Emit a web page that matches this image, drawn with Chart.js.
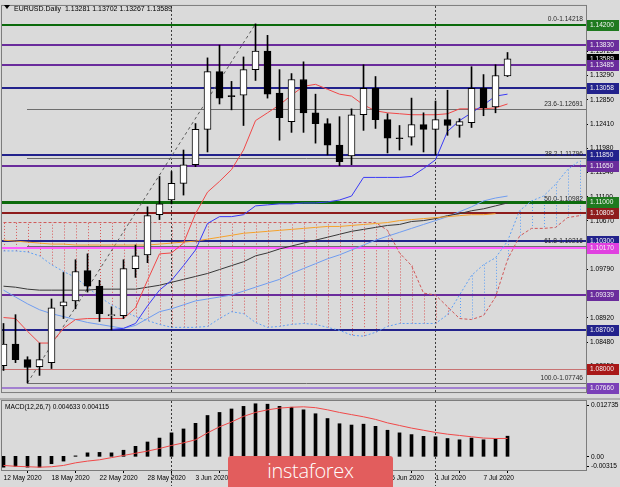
<!DOCTYPE html>
<html>
<head>
<meta charset="utf-8">
<title>EURUSD Daily</title>
<script src="https://cdn.jsdelivr.net/npm/chart.js@4.4.1/dist/chart.umd.min.js"></script>
<style>
  html, body { margin: 0; padding: 0; background: #dadada; overflow: hidden; }
  #wrap { position: relative; width: 620px; height: 487px; }
  #main { position: absolute; left: 0; top: 0; }
  #macd { position: absolute; left: 0; top: 398px; }
  #logo {
    position: absolute; left: 228px; top: 456px; width: 165px; height: 40px;
    background: #e25d5d; border-radius: 3px 3px 0 0; color: #fff;
    font: 300 20px "Open Sans"; text-align: center; line-height: 30px; letter-spacing: -0.3px;
  }
</style>
</head>
<body>
<div id="wrap">
  <canvas id="main" width="620" height="398"></canvas>
  <canvas id="macd" width="620" height="89"></canvas>
  <div id="logo">instaforex</div>
</div>
<script>
// --- DATA (EURUSD daily) ---
const barDates = [
  '12 May 2020', '13 May 2020', '14 May 2020', '15 May 2020', '18 May 2020', '19 May 2020',
  '20 May 2020', '21 May 2020', '22 May 2020', '25 May 2020', '26 May 2020', '27 May 2020',
  '28 May 2020', '29 May 2020', '1 Jun 2020', '2 Jun 2020', '3 Jun 2020', '4 Jun 2020',
  '5 Jun 2020', '8 Jun 2020', '9 Jun 2020', '10 Jun 2020', '11 Jun 2020', '12 Jun 2020',
  '15 Jun 2020', '16 Jun 2020', '17 Jun 2020', '18 Jun 2020', '19 Jun 2020', '22 Jun 2020',
  '23 Jun 2020', '24 Jun 2020', '25 Jun 2020', '26 Jun 2020', '29 Jun 2020', '30 Jun 2020',
  '1 Jul 2020', '2 Jul 2020', '3 Jul 2020', '6 Jul 2020', '7 Jul 2020', '8 Jul 2020', '9 Jul 2020'
];

const opens = [1.08058, 1.08447, 1.08164, 1.08040, 1.08111, 1.09135, 1.09224, 1.09771, 1.09489, 1.08959,
  1.08959, 1.09807, 1.10054, 1.10778, 1.11043, 1.11344, 1.11679, 1.12315, 1.13357, 1.12916,
  1.12933, 1.13393, 1.13728, 1.12969, 1.12456, 1.13216, 1.12615, 1.12421, 1.12032, 1.11838,
  1.12580, 1.13057, 1.12492, 1.12156, 1.12174, 1.12403, 1.12315, 1.12492, 1.12386, 1.12439,
  1.13057, 1.12721, 1.13281];
const highs = [1.08817, 1.08976, 1.08217, 1.08464, 1.09259, 1.09736, 1.09966, 1.10072, 1.09595, 1.09118,
  1.09966, 1.10231, 1.10920, 1.11467, 1.11556, 1.11944, 1.12421, 1.13605, 1.13834, 1.13181,
  1.13622, 1.14218, 1.14011, 1.13393, 1.13322, 1.13534, 1.12951, 1.12509, 1.12545, 1.12686,
  1.13481, 1.13269, 1.12598, 1.12386, 1.12880, 1.12615, 1.12827, 1.13022, 1.12509, 1.13446,
  1.13304, 1.13481, 1.13702];
const lows = [1.07970, 1.08111, 1.07746, 1.07881, 1.08005, 1.08906, 1.09082, 1.09383, 1.08853, 1.08700,
  1.08906, 1.09648, 1.09913, 1.10690, 1.10973, 1.11132, 1.11644, 1.11909, 1.12774, 1.12668,
  1.12386, 1.13198, 1.12880, 1.12121, 1.12262, 1.12262, 1.12068, 1.11856, 1.11662, 1.11679,
  1.12298, 1.12333, 1.11891, 1.11944, 1.12032, 1.11909, 1.11856, 1.12209, 1.12174, 1.12350,
  1.12562, 1.12615, 1.13267];
const closes = [1.08447, 1.08164, 1.08023, 1.08164, 1.09100, 1.09206, 1.09754, 1.09489, 1.08994, 1.08976,
  1.09807, 1.10036, 1.10761, 1.10973, 1.11344, 1.11679, 1.12315, 1.13357, 1.12880, 1.12907,
  1.13393, 1.13728, 1.12951, 1.12527, 1.13216, 1.12615, 1.12421, 1.12032, 1.11732, 1.12580,
  1.13057, 1.12492, 1.12156, 1.12147, 1.12403, 1.12315, 1.12492, 1.12386, 1.12456, 1.13057,
  1.12704, 1.13287, 1.13589];

// indicator lines
const redLine = [1.08924, 1.08906, 1.08676, 1.08464, 1.08464, 1.08729, 1.08888, 1.08906, 1.08906, 1.08906,
  1.08906, 1.09100, 1.09595, 1.10072, 1.10089, 1.10266, 1.10796, 1.11185, 1.11379, 1.11591,
  1.11944, 1.12474, 1.12615, 1.12757, 1.12933, 1.13092, 1.13128, 1.13039, 1.12951, 1.12916,
  1.12757, 1.12651, 1.12615, 1.12598, 1.12580, 1.12580, 1.12580, 1.12598, 1.12686, 1.12686,
  1.12686, 1.12704, 1.12774];
const blueLine = [null, null, null, null, null, null, null, null, null, 1.08711,
  1.08729, 1.08817, 1.09135, 1.09418, 1.09595, 1.09860, 1.10142, 1.10619, 1.10743, 1.10743,
  1.10778, 1.10937, 1.10955, 1.10973, 1.10973, 1.10990, 1.10990, 1.11008, 1.11043, 1.11114,
  1.11450, 1.11450, 1.11450, 1.11450, 1.11467, 1.11609, 1.11768, 1.12280, 1.12474, 1.12615,
  1.12757, 1.12916, 1.12951];
const grayLine = [1.09489, 1.09471, 1.09436, 1.09418, 1.09418, 1.09418, 1.09418, 1.09418, 1.09436, 1.09436,
  1.09436, 1.09436, 1.09471, 1.09506, 1.09559, 1.09612, 1.09665, 1.09718, 1.09789, 1.09860,
  1.09930, 1.10036, 1.10089, 1.10160, 1.10213, 1.10266, 1.10319, 1.10372, 1.10425, 1.10478,
  1.10513, 1.10549, 1.10584, 1.10602, 1.10655, 1.10672, 1.10708, 1.10761, 1.10796, 1.10849,
  1.10884, 1.10937, 1.10990];
const orangeLine = [1.10319, 1.10302, 1.10284, 1.10266, 1.10248, 1.10248, 1.10231, 1.10231, 1.10231, 1.10231,
  1.10231, 1.10231, 1.10231, 1.10248, 1.10266, 1.10284, 1.10302, 1.10337, 1.10372, 1.10407,
  1.10443, 1.10460, 1.10478, 1.10496, 1.10513, 1.10531, 1.10549, 1.10566, 1.10566, 1.10584,
  1.10602, 1.10619, 1.10637, 1.10672, 1.10690, 1.10708, 1.10725, 1.10743, 1.10761, 1.10778,
  1.10778, 1.10796, null];
const lightBlueLine = [1.09418, 1.09294, 1.09171, 1.09065, 1.08994, 1.08941, 1.08888, 1.08835, 1.08800, 1.08764,
  1.08729, 1.08782, 1.08906, 1.09029, 1.09082, 1.09153, 1.09224, 1.09259, 1.09294, 1.09330,
  1.09400, 1.09471, 1.09542, 1.09612, 1.09718, 1.09807, 1.09895, 1.09983, 1.10054, 1.10142,
  1.10231, 1.10319, 1.10390, 1.10460, 1.10531, 1.10602, 1.10672, 1.10743, 1.10831, 1.10920,
  1.11026, 1.11079, 1.11114];

// cloud spans (run 6 bars past the last candle)
const spanA = [1.10125, 1.10125, 1.10107, 1.10036, 1.09877, 1.09754, 1.09648, 1.09471, 1.09294, 1.09153,
  1.09047, 1.08941, 1.08870, 1.08800, 1.08747, 1.08747, 1.08747, 1.08764, 1.08906, 1.09029,
  1.08994, 1.08835, 1.08747, 1.08764, 1.08800, 1.08817, 1.08800, 1.08747, 1.08694, 1.08606,
  1.08588, 1.08658, 1.08764, 1.08817, 1.08817, 1.08817, 1.08817, 1.08976, 1.09330, 1.09683,
  1.09877, 1.10001, 1.10301, 1.10849, 1.11026, 1.11114, 1.11326, 1.11591, 1.11750];
const spanB = [1.10637, 1.10637, 1.10637, 1.10637, 1.10637, 1.10637, 1.10637, 1.10637, 1.10637, 1.10637,
  1.10637, 1.10637, 1.10637, 1.10637, 1.10637, 1.10637, 1.10637, 1.10637, 1.10637, 1.10637,
  1.10637, 1.10637, 1.10637, 1.10637, 1.10637, 1.10637, 1.10637, 1.10637, 1.10637, 1.10637,
  1.10637, 1.10637, 1.10496, 1.10089, 1.09860, 1.09365, 1.09330, 1.09118, 1.08906, 1.08888,
  1.08959, 1.09294, 1.09966, 1.10390, 1.10531, 1.10531, 1.10549, 1.10725, 1.10761];

// MACD(12,26,7)
const macdMain = [-0.0025, -0.0023, -0.0025, -0.0025, -0.0017, -0.0011, 0.0001, 0.0008, 0.0009, 0.0008,
  0.0014, 0.0023, 0.0033, 0.0042, 0.0054, 0.0063, 0.0076, 0.0094, 0.0101, 0.0109,
  0.0115, 0.0121, 0.0120, 0.0115, 0.0113, 0.0107, 0.0098, 0.0087, 0.0075, 0.0072,
  0.0074, 0.0069, 0.0060, 0.0054, 0.0050, 0.0046, 0.0045, 0.0041, 0.0038, 0.0042,
  0.0038, 0.0040, 0.004633];
const macdSignal = [-0.0021, -0.0023, -0.0024, -0.0025, -0.0024, -0.0021, -0.0015, -0.0011, -0.0008, -0.0003,
  0.0002, 0.0007, 0.0012, 0.0018, 0.0025, 0.0031, 0.0038, 0.0054, 0.0068, 0.0079,
  0.0092, 0.0101, 0.0107, 0.0111, 0.0113, 0.0114, 0.0112, 0.0107, 0.0101, 0.0096,
  0.0091, 0.0085, 0.0077, 0.0071, 0.0065, 0.0060, 0.0055, 0.0051, 0.0048, 0.0045,
  0.0042, 0.0041, 0.004115];
const macdTicks = [0.012735, 0, -0.00315];

// horizontal levels drawn on the chart
const levelPrices = [1.14200, 1.13830, 1.13500, 1.13485, 1.13058, 1.11850, 1.11650, 1.11000,
  1.10805, 1.10300, 1.10170, 1.09339, 1.08700, 1.08000, 1.07660];
const levelTagged = [true, true, false, true, true, true, true, true, true, true, true, true, true, true, true];

// fibonacci retracement
const fibNames = ['0.0', '23.6', '38.2', '50.0', '61.8', '100.0'];
const fibPrices = [1.14218, 1.12691, 1.11796, 1.10982, 1.10216, 1.07746];
const fibFrom = 2, fibTo = 21;   // bars of the swing low and high

// price axis tick labels
const priceTicks = [1.13720, 1.13290, 1.12850, 1.12410, 1.11980, 1.11540, 1.11100, 1.10670,
  1.10230, 1.09790, 1.09360, 1.08920, 1.08480, 1.08050];
const monthStarts = [14, 36];
const dateTickEvery = 4;

// --- STYLE ---
const FONT = '"Liberation Sans", Arial, sans-serif';
const X_MIN = -0.125, X_MAX = 48.54;
const levelColors = ['#0b6b0b', '#6a2c9c', '#4ea04e', '#6a2c9c', '#22228c', '#22228c', '#6a2c9c', '#0b6b0b',
  '#8e1c1c', '#22228c', '#ff5cff', '#6a2c9c', '#22228c', '#c87272', '#a280d0'];
const levelWidths = [2, 2, 1, 2, 2, 2, 2, 3, 2, 2, 2, 2, 2, 1, 2];
const tagColors = ['#1f7a1f', '#6a2c9c', null, '#6a2c9c', '#22228c', '#22228c', '#6a2c9c', '#1f7a1f',
  '#8e1c1c', '#22228c', '#e040e0', '#6a2c9c', '#22228c', '#a81818', '#7a40b8'];

const idx = (arr) => arr.map((v, i) => ({ x: i, y: v }));

function hLine(ctx, y0, x0, x1, w) {
  const y = w % 2 ? Math.round(y0) + 0.5 : Math.round(y0);
  ctx.lineWidth = w;
  ctx.beginPath(); ctx.moveTo(x0, y); ctx.lineTo(x1, y); ctx.stroke();
}

function vDotted(ctx, x, y0, y1) {
  const xx = Math.floor(x) + 0.5;
  ctx.beginPath(); ctx.moveTo(xx, y0); ctx.lineTo(xx, y1); ctx.stroke();
}

function frame(ctx, a) {
  ctx.strokeStyle = '#7c7c7c';
  ctx.lineWidth = 1;
  ctx.setLineDash([]);
  ctx.strokeRect(a.left - 0.5, a.top - 0.5, a.right - a.left + 1, a.bottom - a.top + 1);
}

// --- MAIN PANEL DECORATION ---
const mainDecor = {
  id: 'mainDecor',
  beforeDatasetsDraw(chart) {
    const { ctx, chartArea: a, scales: { x, y } } = chart;
    ctx.save();
    ctx.beginPath();
    ctx.rect(a.left, a.top, a.right - a.left, a.bottom - a.top);
    ctx.clip();

    // cloud hatching (red where span B is on top, blue where span A is)
    ctx.lineWidth = 1;
    ctx.setLineDash([1, 2]);
    spanA.forEach((va, i) => {
      const vb = spanB[i];
      if (va == null || vb == null) return;
      ctx.strokeStyle = vb > va ? '#d85656' : '#5c9ef5';
      vDotted(ctx, x.getPixelForValue(i) + 1, y.getPixelForValue(va), y.getPixelForValue(vb));
    });

    // month separators
    ctx.strokeStyle = '#3a3a3a';
    ctx.setLineDash([2, 2]);
    monthStarts.forEach(i => vDotted(ctx, x.getPixelForValue(i), a.top, a.bottom));

    // fib levels
    ctx.setLineDash([]);
    ctx.strokeStyle = '#6e6e6e';
    const fx = Math.floor(x.getPixelForValue(fibFrom));
    fibPrices.forEach(p => hLine(ctx, y.getPixelForValue(p), fx, a.right, 1));

    // horizontal levels
    levelPrices.forEach((p, k) => {
      ctx.strokeStyle = levelColors[k];
      hLine(ctx, y.getPixelForValue(p), a.left, a.right, levelWidths[k]);
    });

    // fib trend line
    ctx.strokeStyle = '#5a5a5a';
    ctx.lineWidth = 1;
    ctx.setLineDash([3, 3]);
    ctx.beginPath();
    ctx.moveTo(x.getPixelForValue(fibFrom), y.getPixelForValue(fibPrices[5]));
    ctx.lineTo(x.getPixelForValue(fibTo), y.getPixelForValue(fibPrices[0]));
    ctx.stroke();
    ctx.restore();
  },
  afterDraw(chart) {
    const { ctx, chartArea: a, scales: { y } } = chart;
    ctx.save();
    frame(ctx, a);

    // fib captions
    ctx.font = '6.6px ' + FONT;
    ctx.fillStyle = '#2a2a2a';
    ctx.textAlign = 'right';
    ctx.textBaseline = 'bottom';
    fibPrices.forEach((p, k) => {
      ctx.fillText(fibNames[k] + '-' + p.toFixed(5), a.right - 3, y.getPixelForValue(p) - 1);
    });

    // title
    const last = closes.length - 1;
    ctx.fillStyle = '#000';
    ctx.beginPath(); ctx.moveTo(4, 5); ctx.lineTo(10, 5); ctx.lineTo(7, 9); ctx.closePath(); ctx.fill();
    ctx.font = '7px ' + FONT;
    ctx.textAlign = 'left';
    ctx.textBaseline = 'alphabetic';
    ctx.fillText('EURUSD.Daily  ' + [opens[last], highs[last], lows[last], closes[last]]
      .map(v => v.toFixed(5)).join(' '), 14, 11);

    // price tags on the axis
    ctx.font = '6.6px ' + FONT;
    ctx.textBaseline = 'middle';
    const tag = (p, bg, fg) => {
      const py = Math.round(y.getPixelForValue(p));
      ctx.fillStyle = bg;
      ctx.fillRect(a.right + 1, py - 5, 620 - a.right - 2, 11);
      ctx.fillStyle = fg;
      ctx.fillText(p.toFixed(5), a.right + 4, py + 0.5);
    };
    tag(closes[last], '#000000', '#ffffff');
    levelPrices.forEach((p, k) => { if (levelTagged[k]) tag(p, tagColors[k], '#f4f4f4'); });
    ctx.restore();
  }
};

// --- MACD PANEL DECORATION ---
const macdDecor = {
  id: 'macdDecor',
  beforeDatasetsDraw(chart) {
    const { ctx, chartArea: a, scales: { x } } = chart;
    ctx.save();
    ctx.fillStyle = '#b0b0b0';
    ctx.fillRect(0, 0, 620, 2);
    ctx.strokeStyle = '#3a3a3a';
    ctx.lineWidth = 1;
    ctx.setLineDash([2, 2]);
    monthStarts.forEach(i => vDotted(ctx, x.getPixelForValue(i), a.top, a.bottom + 16));
    ctx.restore();
  },
  afterDraw(chart) {
    const { ctx, chartArea: a, scales: { y } } = chart;
    ctx.save();
    frame(ctx, a);
    ctx.fillStyle = '#000';
    ctx.font = '6.6px ' + FONT;
    ctx.textBaseline = 'alphabetic';
    const last = macdMain.length - 1;
    ctx.fillText('MACD(12,26,7) ' + macdMain[last].toFixed(6) + ' ' + macdSignal[last].toFixed(6), 5, 11);

    // MT4 keeps the min/max captions inside the panel
    ctx.textBaseline = 'middle';
    const shifts = [4, 0, -4];
    const texts = ['0.012735', '0.00', '-0.00315'];
    macdTicks.forEach((v, k) => {
      const py = y.getPixelForValue(v) + shifts[k];
      ctx.fillStyle = '#000';
      ctx.fillRect(a.right + 1, Math.round(py), 2, 1);
      ctx.fillText(texts[k], a.right + 5, py + 0.5);
    });
    ctx.restore();
  }
};

// --- MAIN CHART ---
new Chart(document.getElementById('main'), {
  type: 'bar',
  data: {
    datasets: [
      { type: 'line', data: idx(spanB), borderColor: '#d05858', borderDash: [3, 2], order: 9 },
      { type: 'line', data: idx(spanA), borderColor: '#5fa0f5', borderDash: [2, 2], order: 9 },
      { type: 'line', data: idx(orangeLine), borderColor: '#f5a12a', order: 8 },
      { type: 'line', data: idx(grayLine), borderColor: '#383838', order: 8 },
      { type: 'line', data: idx(lightBlueLine), borderColor: '#6f9cf0', order: 8 },
      { type: 'line', data: idx(blueLine), borderColor: '#3a3af5', order: 7 },
      { type: 'line', data: idx(redLine), borderColor: '#f04848', order: 7 },
      {
        data: lows.map((l, i) => ({ x: i, y: [l, highs[i]] })),
        backgroundColor: '#000', barThickness: 1, order: 2
      },
      {
        data: opens.map((o, i) => ({ x: i, y: [o, closes[i]] })),
        backgroundColor: opens.map((o, i) => closes[i] >= o ? '#ffffff' : '#000000'),
        borderColor: '#000', borderWidth: 1, borderSkipped: false,
        barThickness: 7, minBarLength: 1, order: 1
      }
    ]
  },
  options: {
    responsive: false,
    animation: false,
    events: [],
    layout: { padding: { left: 2, top: 3, right: 0, bottom: 1 } },
    elements: { line: { borderWidth: 1, tension: 0 }, point: { radius: 0 } },
    datasets: { bar: { grouped: false } },
    plugins: { legend: { display: false }, tooltip: { enabled: false } },
    scales: {
      x: { type: 'linear', display: false, min: X_MIN, max: X_MAX, offset: false },
      y: {
        position: 'right', min: 1.07581, max: 1.14541,
        afterFit: (axis) => { axis.width = 34; },
        afterBuildTicks: (axis) => { axis.ticks = priceTicks.map(v => ({ value: v })); },
        grid: { drawOnChartArea: false, tickLength: 2, color: '#000' },
        border: { display: true, color: '#7c7c7c' },
        ticks: {
          autoSkip: false, padding: 2, color: '#000',
          font: { family: FONT, size: 6.6 },
          callback: (v) => v.toFixed(5)
        }
      }
    }
  },
  plugins: [mainDecor]
});

// --- MACD CHART ---
new Chart(document.getElementById('macd'), {
  type: 'bar',
  data: {
    datasets: [
      { type: 'line', data: idx(macdSignal), borderColor: '#f04848', borderWidth: 1, pointRadius: 0, order: 1 },
      { data: idx(macdMain), backgroundColor: '#000', barThickness: 3, order: 2 }
    ]
  },
  options: {
    responsive: false,
    animation: false,
    events: [],
    layout: { padding: { left: 2, top: 3, right: 0, bottom: 0 } },
    datasets: { bar: { grouped: false } },
    plugins: { legend: { display: false }, tooltip: { enabled: false } },
    scales: {
      x: {
        type: 'linear', min: X_MIN, max: X_MAX, offset: false,
        afterFit: (axis) => { axis.height = 17; },
        afterBuildTicks: (axis) => {
          axis.ticks = barDates.map((d, i) => i).filter(i => i % dateTickEvery === 0).map(i => ({ value: i }));
        },
        grid: { drawOnChartArea: false, tickLength: 3, color: '#000' },
        border: { display: true, color: '#7c7c7c' },
        ticks: {
          autoSkip: false, maxRotation: 0, align: 'start', padding: 1, color: '#000',
          font: { family: FONT, size: 6.6 },
          callback: (v) => barDates[v]
        }
      },
      y: {
        position: 'right', min: macdTicks[2], max: macdTicks[0],
        afterFit: (axis) => { axis.width = 34; },
        grid: { display: false },
        border: { display: true, color: '#7c7c7c' },
        ticks: { display: false }
      }
    }
  },
  plugins: [macdDecor]
});
</script>
</body>
</html>
